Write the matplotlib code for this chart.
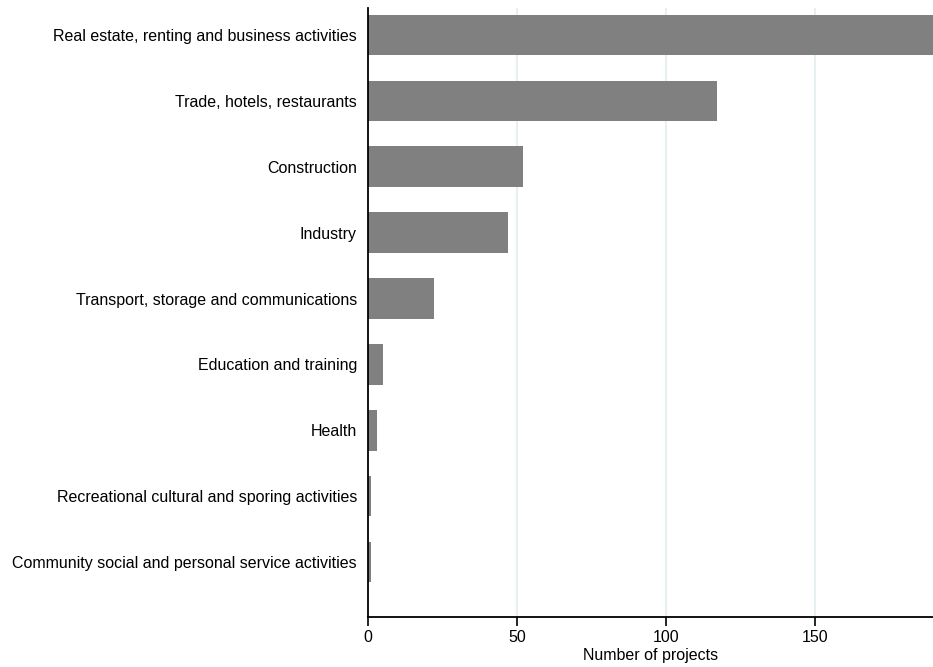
import matplotlib
matplotlib.use("Agg")
import matplotlib.pyplot as plt
import numpy as np

plt.rcParams['font.family'] = ['Liberation Sans', 'DejaVu Sans']

sectors = ['Real estate, renting and business activities',
           'Trade, hotels, restaurants',
           'Construction',
           'Industry',
           'Transport, storage and communications',
           'Education and training',
           'Health',
           'Recreational cultural and sporing activities',
           'Community social and personal service activities']
projects = [195, 117, 52, 47, 22, 5, 3, 1, 1]
xticks = [0, 50, 100, 150]

fig = plt.figure(figsize=(9.33, 6.67), dpi=100)
ax = fig.add_axes([368/933, 1-617/667, 1-368/933, (617-8)/667])

ypos = np.arange(len(sectors))
ax.barh(ypos, projects, height=0.615, color='#808080', zorder=2)

ax.set_xlim(0, 189.6)
ax.set_ylim(len(sectors)-1+0.835, -0.41)
ax.set_yticks(ypos)
ax.set_yticklabels(sectors, fontsize=11.5)
ax.tick_params(axis='y', length=0, pad=8)
ax.set_xticks(xticks)
ax.tick_params(axis='x', length=6.5, width=1.2, labelsize=11.5, pad=3)
ax.set_xlabel('Number of projects', fontsize=11.5, labelpad=2)

for x in xticks[1:]:
    ax.axvline(x, color='#e6eff1', lw=1.5, zorder=1)

ax.spines['right'].set_visible(False)
ax.spines['top'].set_visible(False)
ax.spines['left'].set_lw(1.3)
ax.spines['bottom'].set_lw(1.3)

fig.savefig('out.png', dpi=100)
